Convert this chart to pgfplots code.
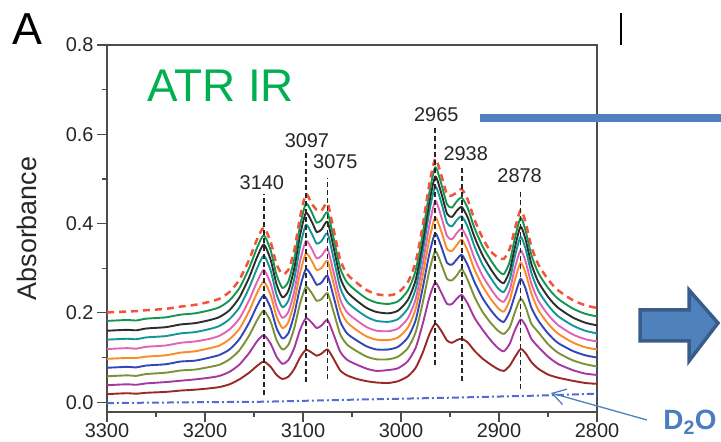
\documentclass[border=0pt]{standalone}
\usepackage{pgfplots}
\pgfplotsset{compat=1.18}
\usepackage{pgfplotstable}
\usepackage{fontspec}
\setmainfont{Liberation Sans}
\usetikzlibrary{arrows.meta}
\definecolor{cred}{RGB}{240,85,60}
\definecolor{cgreen}{RGB}{20,150,80}
\definecolor{cblack}{RGB}{45,45,45}
\definecolor{cteal}{RGB}{20,150,150}
\definecolor{cpink}{RGB}{225,100,180}
\definecolor{corange}{RGB}{250,140,40}
\definecolor{cblue}{RGB}{50,70,185}
\definecolor{colive}{RGB}{125,145,55}
\definecolor{cpurple}{RGB}{165,55,160}
\definecolor{cbrown}{RGB}{155,40,40}
\definecolor{cdtwo}{RGB}{80,110,210}
\definecolor{offblue}{RGB}{79,129,189}
\definecolor{offblued}{RGB}{56,93,138}
\definecolor{atrgreen}{RGB}{0,176,80}
\definecolor{dtext}{RGB}{74,124,192}

\pgfplotstableread{
x red green black teal pink orange blue olive purple brown
3300 0.201 0.182 0.160 0.140 0.119 0.097 0.077 0.058 0.038 0.018
3280 0.203 0.184 0.162 0.142 0.121 0.099 0.079 0.060 0.040 0.020
3270 0.204 0.183 0.161 0.141 0.120 0.099 0.078 0.059 0.039 0.019
3260 0.206 0.187 0.165 0.145 0.124 0.102 0.082 0.063 0.042 0.021
3240 0.209 0.190 0.168 0.148 0.127 0.105 0.085 0.066 0.045 0.023
3225 0.214 0.196 0.174 0.154 0.133 0.111 0.091 0.071 0.048 0.026
3210 0.218 0.199 0.177 0.157 0.136 0.114 0.093 0.073 0.051 0.028
3195 0.225 0.206 0.184 0.164 0.142 0.121 0.100 0.079 0.055 0.031
3185 0.232 0.213 0.191 0.171 0.149 0.127 0.106 0.084 0.059 0.034
3175 0.247 0.228 0.206 0.186 0.163 0.141 0.118 0.096 0.068 0.040
3165 0.274 0.255 0.234 0.212 0.187 0.164 0.141 0.116 0.084 0.051
3155 0.319 0.300 0.279 0.256 0.228 0.204 0.178 0.149 0.110 0.066
3147 0.364 0.345 0.324 0.299 0.269 0.244 0.215 0.183 0.136 0.081
3140 0.391 0.374 0.353 0.328 0.296 0.270 0.239 0.205 0.150 0.091
3133 0.359 0.340 0.319 0.295 0.265 0.240 0.211 0.180 0.131 0.079
3127 0.309 0.285 0.264 0.241 0.215 0.192 0.166 0.139 0.102 0.061
3121 0.287 0.256 0.235 0.213 0.189 0.166 0.143 0.118 0.086 0.052
3115 0.296 0.270 0.249 0.227 0.202 0.179 0.154 0.128 0.094 0.057
3109 0.339 0.320 0.299 0.275 0.247 0.223 0.196 0.165 0.121 0.074
3103 0.414 0.395 0.374 0.348 0.316 0.289 0.257 0.221 0.162 0.100
3097 0.466 0.445 0.424 0.397 0.361 0.333 0.298 0.258 0.188 0.117
3091 0.444 0.425 0.404 0.377 0.343 0.316 0.282 0.244 0.178 0.111
3086 0.431 0.402 0.381 0.355 0.322 0.296 0.263 0.227 0.166 0.104
3081 0.429 0.408 0.387 0.361 0.328 0.301 0.268 0.231 0.172 0.109
3075 0.446 0.425 0.404 0.378 0.343 0.316 0.283 0.244 0.184 0.118
3069 0.389 0.370 0.349 0.324 0.293 0.268 0.238 0.204 0.153 0.098
3062 0.319 0.300 0.279 0.256 0.230 0.207 0.181 0.152 0.113 0.071
3055 0.287 0.268 0.247 0.225 0.201 0.179 0.154 0.129 0.095 0.060
3045 0.267 0.248 0.227 0.206 0.183 0.161 0.138 0.114 0.084 0.052
3035 0.251 0.232 0.211 0.191 0.168 0.147 0.125 0.102 0.075 0.047
3025 0.242 0.223 0.202 0.182 0.160 0.140 0.118 0.096 0.070 0.044
3013 0.239 0.220 0.199 0.180 0.159 0.139 0.118 0.096 0.072 0.043
3003 0.245 0.226 0.205 0.186 0.165 0.145 0.124 0.102 0.076 0.047
2993 0.269 0.250 0.229 0.210 0.188 0.167 0.145 0.121 0.092 0.058
2985 0.314 0.295 0.274 0.254 0.231 0.209 0.184 0.157 0.122 0.077
2978 0.394 0.375 0.354 0.334 0.307 0.282 0.254 0.221 0.174 0.110
2971 0.489 0.470 0.449 0.428 0.397 0.365 0.333 0.295 0.235 0.152
2965 0.545 0.526 0.505 0.483 0.451 0.414 0.378 0.338 0.268 0.176
2959 0.509 0.490 0.469 0.448 0.416 0.383 0.349 0.310 0.246 0.160
2953 0.465 0.443 0.422 0.401 0.372 0.343 0.312 0.276 0.220 0.138
2948 0.463 0.436 0.415 0.394 0.365 0.339 0.308 0.273 0.220 0.133
2943 0.470 0.450 0.429 0.408 0.379 0.352 0.320 0.284 0.232 0.139
2938 0.477 0.458 0.437 0.416 0.388 0.364 0.330 0.298 0.240 0.142
2932 0.454 0.435 0.414 0.393 0.365 0.339 0.307 0.274 0.221 0.134
2925 0.409 0.390 0.370 0.349 0.322 0.297 0.269 0.236 0.189 0.115
2917 0.369 0.350 0.330 0.309 0.284 0.261 0.234 0.203 0.163 0.098
2909 0.339 0.320 0.300 0.280 0.256 0.233 0.208 0.179 0.140 0.085
2901 0.324 0.295 0.275 0.255 0.232 0.211 0.187 0.160 0.121 0.074
2895 0.321 0.287 0.267 0.247 0.225 0.203 0.180 0.153 0.114 0.070
2889 0.344 0.315 0.295 0.275 0.251 0.229 0.204 0.168 0.131 0.082
2884 0.386 0.365 0.345 0.325 0.299 0.272 0.238 0.200 0.160 0.100
2878 0.430 0.413 0.393 0.370 0.340 0.312 0.276 0.232 0.185 0.119
2873 0.404 0.385 0.365 0.344 0.316 0.290 0.255 0.214 0.172 0.110
2867 0.349 0.330 0.310 0.290 0.266 0.244 0.212 0.176 0.142 0.090
2860 0.309 0.290 0.270 0.250 0.228 0.207 0.183 0.157 0.124 0.075
2850 0.275 0.256 0.236 0.217 0.196 0.176 0.154 0.130 0.102 0.062
2840 0.251 0.232 0.212 0.193 0.173 0.154 0.133 0.111 0.086 0.055
2825 0.229 0.210 0.190 0.172 0.152 0.134 0.115 0.094 0.072 0.048
2812 0.217 0.198 0.178 0.160 0.141 0.123 0.105 0.085 0.064 0.043
2800 0.211 0.192 0.172 0.154 0.136 0.118 0.100 0.080 0.061 0.041
}\spectra

\pgfplotstableread{
x y
3300 -0.002
3200 0.000
3140 0.001
3040 0.006
2950 0.010
2855 0.015
2800 0.019
}\dtwoo

\begin{document}
\begin{tikzpicture}[x=1bp,y=1bp]
\useasboundingbox (0,0) rectangle (721,442);
\begin{axis}[
  at={(107bp,30bp)}, anchor=south west,
  scale only axis, width=490bp, height=367bp,
  x dir=reverse,
  xmin=2800, xmax=3300, ymin=-0.022, ymax=0.8,
  xtick={2800,2900,3000,3100,3200,3300},
  ytick={0,0.2,0.4,0.6,0.8},
  minor x tick num=1, minor y tick num=1,
  tick align=outside,
  xtick pos=bottom, ytick pos=left,
  major tick length=10bp, minor tick length=5bp,
  axis line style={black!70, line width=1.3bp},
  tick style={black!70, line width=1.2bp},
  /pgf/number format/assume math mode=true,
  tick label style={font=\fontsize{20}{24}\selectfont, text=black!85},
  xticklabel style={/pgf/number format/1000 sep={}, yshift=2bp},
  yticklabel style={/pgf/number format/.cd, fixed, fixed zerofill, precision=1},
  ylabel={Absorbance},
  every axis y label/.style={at={(axis description cs:-0.163,0.5)}, rotate=90, anchor=center, font=\fontsize{27}{30}\selectfont, text=black!85},
  clip=true,
]
\addplot[cbrown, line width=1.9bp, smooth, tension=0.4] table[x=x,y=brown]{\spectra};
\addplot[cpurple, line width=1.9bp, smooth, tension=0.4] table[x=x,y=purple]{\spectra};
\addplot[colive, line width=1.9bp, smooth, tension=0.4] table[x=x,y=olive]{\spectra};
\addplot[cblue, line width=1.9bp, smooth, tension=0.4] table[x=x,y=blue]{\spectra};
\addplot[corange, line width=1.9bp, smooth, tension=0.4] table[x=x,y=orange]{\spectra};
\addplot[cpink, line width=1.9bp, smooth, tension=0.4] table[x=x,y=pink]{\spectra};
\addplot[cteal, line width=1.9bp, smooth, tension=0.4] table[x=x,y=teal]{\spectra};
\addplot[cblack, line width=1.9bp, smooth, tension=0.4] table[x=x,y=black]{\spectra};
\addplot[cgreen, line width=1.9bp, smooth, tension=0.4] table[x=x,y=green]{\spectra};
\addplot[cred, line width=2.5bp, dash pattern=on 7bp off 5bp, smooth, tension=0.4] table[x=x,y=red]{\spectra};
\addplot[cdtwo, line width=2bp, dash pattern=on 7bp off 3bp on 2bp off 3bp] table[x=x,y=y]{\dtwoo};
% peak marker lines
\addplot[black!85, line width=1.8bp, dash pattern=on 5bp off 3bp] coordinates {(3140,0.016) (3140,0.467)};
\addplot[black!85, line width=1.8bp, dash pattern=on 5bp off 3bp] coordinates {(3097,0.045) (3097,0.557)};
\addplot[black!85, line width=1.8bp, dash pattern=on 5bp off 3bp] coordinates {(3075,0.052) (3075,0.501)};
\addplot[black!85, line width=1.8bp, dash pattern=on 5bp off 3bp] coordinates {(2965,0.083) (2965,0.616)};
\addplot[black!85, line width=1.8bp, dash pattern=on 5bp off 3bp] coordinates {(2938,0.047) (2938,0.524)};
\addplot[black!85, line width=1.8bp, dash pattern=on 5bp off 3bp] coordinates {(2878,0.029) (2878,0.474)};
\begin{scope}[every node/.style={font=\fontsize{20}{24}\selectfont, text=black!85, inner sep=0pt}]
\node at (axis cs:3142,0.492) {3140};
\node at (axis cs:3096,0.586) {3097};
\node at (axis cs:3067,0.539) {3075};
\node at (axis cs:2964,0.643) {2965};
\node at (axis cs:2934,0.557) {2938};
\node at (axis cs:2879,0.508) {2878};
\end{scope}
\end{axis}
% panel letter and annotations
\node[anchor=base west, inner sep=0pt, font=\fontsize{45}{45}\selectfont] at (12,397) {A};
\node[anchor=base west, inner sep=0pt, font=\fontsize{46}{46}\selectfont, text=atrgreen] at (147,340) {ATR IR};
\draw[offblue, line width=7.3bp] (480,324) -- (730,324);
\draw[black, line width=1.5bp] (621,429) -- (621,397);
\draw[offblued, fill=offblue, line width=3.5bp, line join=miter]
  (640,132) -- (689,132) -- (689,152) -- (718,119) -- (689,81) -- (689,101) -- (640,101) -- cycle;
\draw[offblue, line width=1.3bp, -{Straight Barb[length=13bp,width=16bp]}] (647,22) -- (551,49);
\node[anchor=center, inner sep=0pt, font=\bfseries\fontsize{28}{30}\selectfont, text=dtext] at (690,20) {D\textsubscript{2}O};
\end{tikzpicture}
\end{document}
